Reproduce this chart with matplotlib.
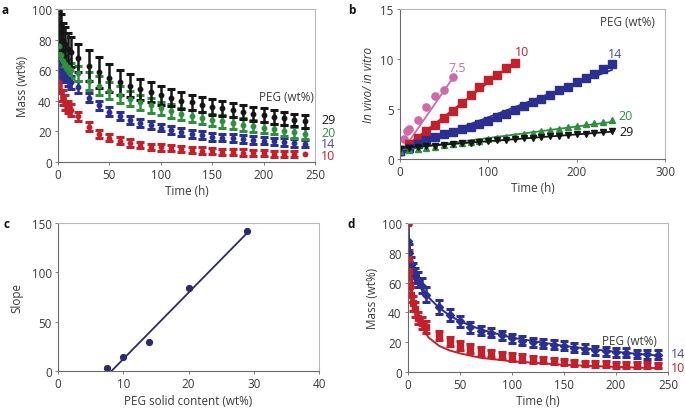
import matplotlib
matplotlib.use('Agg')
import matplotlib.pyplot as plt
import numpy as np

plt.rcParams['font.family'] = ['Open Sans', 'DejaVu Sans']

# ---------------- colours ----------------
C_BLACK = '#151515'
C_GREEN = '#2f8f3f'
C_BLUE = '#2b2f8f'
C_RED = '#c2202b'
C_PINK = '#cf6aa8'
C_NAVY = '#2b2a6b'

# ---------------- panel a data ----------------
t_a = [0, 1, 3, 5, 7, 10, 13, 19, 30, 40, 50, 60, 70, 80, 90, 100, 110, 120,
       130, 140, 150, 160, 170, 180, 190, 200, 210, 220, 230, 240]
a29 = [100, 90, 85, 80, 77, 74, 72, 68, 63, 58.5, 55, 52, 50, 47.5, 45.5, 43.5,
       42, 40, 39, 37.5, 36, 35, 34, 32.5, 31.5, 30.5, 29.5, 28.5, 27.5, 26.5]
a29_err = [1, 12, 12, 11, 11, 10, 10, 9, 10, 10, 9, 8, 7.5, 7, 6.5, 6, 5.5, 5.5,
           5, 5, 5, 5, 4.5, 4.5, 4.5, 4.5, 4.5, 4.5, 4, 4]
a20 = [100, 76, 70, 66, 64, 62, 60, 58, 53, 50, 46.5, 44, 41.5, 39, 37, 35,
       33.5, 31.5, 30, 29, 27.5, 26.5, 25.5, 24.5, 23.5, 22.5, 21.5, 20.5, 19.5, 18.5]
a20_err = [1, 8, 7, 6, 6, 5, 5, 5, 6, 6, 5.5, 5.5, 5, 5, 5, 4.5, 4.5, 4, 4, 4,
           4, 4, 4, 4, 4, 3.5, 3.5, 3.5, 3.5, 3.5]
a14 = [100, 64, 60, 58, 56, 54, 52, 49, 42, 37, 33, 30, 27.5, 25.5, 24, 22.5,
       21, 19.5, 18.5, 17.5, 16.5, 16, 15.5, 15, 14.5, 14, 13.5, 13, 12.5, 12]
a14_err = [1, 5, 4, 4, 4, 4, 4, 4, 3, 3, 3, 2.8, 2.5, 2.5, 2.5, 2.5, 2.5, 2.5,
           2.5, 2.5, 2.5, 2.5, 2.5, 2.5, 2.5, 2.5, 2.5, 2.5, 2.5, 2.5]
a10 = [100, 52, 46, 42, 39, 36, 34, 30, 23, 18.5, 16, 14, 12.5, 11, 10, 9.5,
       9, 8.5, 8, 7.5, 7, 6.8, 6.5, 6.2, 6, 5.8, 5.5, 5.3, 5, 5]
a10_err = [1, 7, 6, 5, 5, 4, 4, 3, 3, 2.5, 2.5, 2.5, 2.5, 2, 2, 2, 2, 2, 2, 2,
           2, 2, 2, 2, 2, 2, 2, 2, 2, np.nan]
a_labels = ['29', '20', '14', '10']
a_label_y = [27.6, 19.6, 11.8, 4.0]

# ---------------- panel b data ----------------
t_b75 = [0, 2, 5, 8, 10, 20, 30, 40, 50, 60]
b75 = [0.7, 1.0, 2.0, 2.8, 3.0, 3.9, 5.2, 6.3, 6.9, 8.2]
t_b10 = [0, 10, 20, 30, 40, 50, 60, 70, 80, 90, 100, 110, 120, 130]
b10 = [0.8, 1.5, 2.1, 2.8, 3.4, 4.1, 4.8, 5.6, 6.4, 7.2, 7.9, 8.4, 9.1, 9.6]
t_b = [0, 10, 20, 30, 40, 50, 60, 70, 80, 90, 100, 110, 120, 130, 140, 150,
       160, 170, 180, 190, 200, 210, 220, 230, 240]
b14 = [0.8, 1.1, 1.5, 1.9, 2.2, 2.5, 2.7, 3.0, 3.2, 3.5, 3.8, 4.2, 4.5, 4.9,
       5.3, 5.7, 6.0, 6.4, 6.9, 7.2, 7.7, 8.1, 8.5, 9.0, 9.5]
b20 = [0.8, 0.9, 1.0, 1.1, 1.25, 1.4, 1.5, 1.6, 1.7, 1.8, 2.0, 2.1, 2.2, 2.35,
       2.5, 2.65, 2.8, 2.95, 3.05, 3.2, 3.35, 3.5, 3.6, 3.75, 3.9]
b29 = [1.0, 1.1, 1.2, 1.3, 1.35, 1.45, 1.5, 1.6, 1.65, 1.75, 1.8, 1.9, 1.95,
       2.0, 2.1, 2.15, 2.2, 2.3, 2.35, 2.45, 2.5, 2.55, 2.65, 2.7, 2.8]
# linear fits (slope, intercept)
fit_b75 = [0.128, 0.45]
fit_b10 = [0.068, 0.85]
fit_b14 = [0.0338, 0.8]
fit_b20 = [0.0115, 0.95]
fit_b29 = [0.0068, 1.1]
b_labels = ['7.5', '10', '14', '20', '29']
b_label_x = [65, 138, 243, 255, 257]
b_label_y = [9.2, 10.8, 10.5, 4.4, 2.7]

# ---------------- panel c data ----------------
peg = [7.5, 10, 14, 20, 29]
slope = [3, 14, 29, 84, 142]
fit_c = [6.73, -55.2]

# ---------------- panel d data ----------------
t_d = [0, 1, 3, 5, 7, 10, 13, 17, 30, 40, 50, 60, 70, 80, 90, 100, 110, 120,
       130, 140, 150, 160, 170, 180, 190, 200, 210, 220, 230, 240]
d14 = [88, 80, 72, 68, 65, 62, 58, 52, 43.6, 38, 34, 30, 27.8, 26.3, 24.5,
       22.7, 21.1, 20, 18.9, 18.2, 17.5, 16.4, 15.5, 14.6, 13.9, 13.3, 12.8,
       12.1, 11.9, 11.5]
d14_err = [12, 6, 5, 5, 5, 5, 5, 5, 5, 4, 3.5, 3.5, 3, 3, 3, 3, 3, 3, 3, 3,
           3, 3, 3, 3, 3, 3, 3, 3, 3, 3]
t_d10 = [0, 0.5, 1, 2, 3, 5, 7, 10, 13, 17, 30, 40, 50, 60, 70, 80, 90, 100,
         110, 120, 130, 140, 150, 160, 170, 180, 190, 200, 210, 220, 230, 240]
d10 = [100, 76, 68, 58, 52, 46, 42, 36, 33, 30, 24.5, 20.5, 18, 16, 14, 12.5,
       11.2, 10, 9.3, 8.5, 8, 7.3, 6.6, 6, 5.7, 5.4, 5.2, 5, 4.9, 4.7, 4.6, 4.5]
d10_err = [1, 6, 6, 6, 5, 5, 5, 4, 4, 4, 3, 3, 3, 3, 3, 2.5, 2.5, 2.5, 2.5,
           2.5, 2, 2, 2, 2, 2, 2, 2, 2, 2, 2, 2, 1.5]
# model curves
tm_d14 = [0, 2, 5, 10, 15, 20, 30, 40, 50, 70, 100, 150, 200, 240]
m_d14 = [97, 82, 72, 62, 55, 50, 43, 38, 34, 28.5, 23, 17.5, 13.5, 11]
tm_d10 = [0, 1, 3, 5, 10, 15, 20, 30, 40, 50, 70, 100, 150, 200, 240]
m_d10 = [100, 78, 60, 50, 37, 28, 23, 17.5, 14.5, 12.5, 9.5, 7.2, 4.8, 3.4, 2.6]

# ---------------- figure ----------------
W, H = 685, 410
fig = plt.figure(figsize=(W / 100, H / 100), dpi=100)

def add_ax(l, t, r, b):
    return fig.add_axes([l / W, 1 - b / H, (r - l) / W, (b - t) / H])

ax_a = add_ax(58, 10, 315, 163)
ax_b = add_ax(400, 10, 665, 160)
ax_c = add_ax(58, 224, 319, 372)
ax_d = add_ax(408, 224, 668, 373)

FS = 8.4
TXT = '#3a3a3a'

def style(ax):
    for s in ['left', 'bottom']:
        ax.spines[s].set_color('#6a6a6a')
        ax.spines[s].set_linewidth(0.8)
    for s in ['top', 'right']:
        ax.spines[s].set_color('#b8b8b8')
        ax.spines[s].set_linewidth(0.8)
    ax.tick_params(direction='out', length=2.5, width=0.6, colors='#6a6a6a',
                   labelsize=FS, labelcolor=TXT, pad=2)

ebkw = dict(fmt='o', ms=3.2, elinewidth=1.8, capsize=3.0, capthick=2.2)

# panel a
for v, e, c in [(a10, a10_err, C_RED), (a14, a14_err, C_BLUE),
                (a20, a20_err, C_GREEN), (a29, a29_err, C_BLACK)]:
    ax_a.errorbar(t_a, v, yerr=e, color=c, ecolor=c, **ebkw)
ax_a.set_xlim(0, 250)
ax_a.set_ylim(0, 100)
ax_a.set_xticks([0, 50, 100, 150, 200, 250])
ax_a.set_yticks([0, 20, 40, 60, 80, 100])
ax_a.set_xlabel('Time (h)', fontsize=FS, color=TXT, labelpad=2)
ax_a.set_ylabel('Mass (wt%)', fontsize=FS, color=TXT, labelpad=2)
style(ax_a)
ax_a.text(249, 42.5, 'PEG (wt%)', fontsize=FS, color=TXT, ha='right', va='center')
for lab, y, c in zip(a_labels, a_label_y, [C_BLACK, C_GREEN, '#4a4aa0', C_RED]):
    ax_a.text(256, y, lab, fontsize=FS + 0.6, color=c, ha='left', va='center',
              clip_on=False)

# panel b
series_b = [(t_b75, b75, fit_b75, C_PINK, 'o', 5.2),
            (t_b10, b10, fit_b10, C_RED, 's', 5.2),
            (t_b, b14, fit_b14, C_BLUE, 's', 5.2),
            (t_b, b20, fit_b20, C_GREEN, '^', 5.0),
            (t_b, b29, fit_b29, C_BLACK, 'v', 5.0)]
for tt, vv, fit, c, m, ms in series_b:
    ax_b.plot(tt, vv, m, color=c, ms=ms, mec=c)
    xx = np.array([min(tt), max(tt)], dtype=float)
    ax_b.plot(xx, fit[0] * xx + fit[1], '-', color=c, lw=1.3)
ax_b.set_xlim(0, 300)
ax_b.set_ylim(0, 15)
ax_b.set_xticks([0, 100, 200, 300])
ax_b.set_yticks([0, 5, 10, 15])
ax_b.set_xlabel('Time (h)', fontsize=FS, color=TXT, labelpad=2)
ax_b.set_ylabel('In vivo/ in vitro', fontsize=FS, color=TXT, style='italic', labelpad=4)
style(ax_b)
ax_b.text(288, 13.7, 'PEG (wt%)', fontsize=FS, color=TXT, ha='right', va='center')
for lab, x, y, c in zip(b_labels, b_label_x, b_label_y,
                        [C_PINK, C_RED, '#4a4aa0', C_GREEN, C_BLACK]):
    ax_b.text(x, y, lab, fontsize=FS + 0.6, color=c, ha='center', va='center')

# panel c
ax_c.plot(peg, slope, 'o', color=C_NAVY, ms=4.2)
xc = np.array([-fit_c[1] / fit_c[0], max(peg)])
ax_c.plot(xc, fit_c[0] * xc + fit_c[1], '-', color=C_NAVY, lw=1.3)
ax_c.set_xlim(0, 40)
ax_c.set_ylim(0, 150)
ax_c.set_xticks([0, 10, 20, 30, 40])
ax_c.set_yticks([0, 50, 100, 150])
ax_c.set_xlabel('PEG solid content (wt%)', fontsize=FS, color=TXT, labelpad=3)
ax_c.set_ylabel('Slope', fontsize=FS, color=TXT, labelpad=6)
style(ax_c)

# panel d
ax_d.plot(tm_d10, m_d10, '-', color=C_RED, lw=1.4)
ax_d.plot(tm_d14, m_d14, '-', color=C_BLUE, lw=1.4)
ax_d.errorbar(t_d, d14, yerr=d14_err, color=C_BLUE, ecolor=C_BLUE,
              fmt='D', ms=3.6, elinewidth=1.8, capsize=3.0, capthick=2.2)
ax_d.errorbar(t_d10, d10, yerr=d10_err, color=C_RED, ecolor=C_RED,
              fmt='s', ms=4.6, elinewidth=1.8, capsize=3.0, capthick=2.2)
ax_d.set_xlim(0, 250)
ax_d.set_ylim(0, 100)
ax_d.set_xticks([0, 50, 100, 150, 200, 250])
ax_d.set_yticks([0, 20, 40, 60, 80, 100])
ax_d.set_xlabel('Time (h)', fontsize=FS, color=TXT, labelpad=2)
ax_d.set_ylabel('Mass (wt%)', fontsize=FS, color=TXT, labelpad=2)
style(ax_d)
ax_d.text(239, 21.1, 'PEG (wt%)', fontsize=FS, color=TXT, ha='right', va='center')
ax_d.text(253, 12.1, '14', fontsize=FS + 0.6, color='#4a4aa0', ha='left',
          va='center', clip_on=False)
ax_d.text(253, 3.1, '10', fontsize=FS + 0.6, color=C_RED, ha='left',
          va='center', clip_on=False)

# panel letters
for lab, x, y in [('a', 1, 10), ('b', 348, 10), ('c', 3, 224), ('d', 348, 224)]:
    fig.text(x / W, 1 - y / H, lab, fontsize=8.5, fontweight='bold', color='#111',
             ha='left', va='center')

fig.savefig('out.png', dpi=100)
